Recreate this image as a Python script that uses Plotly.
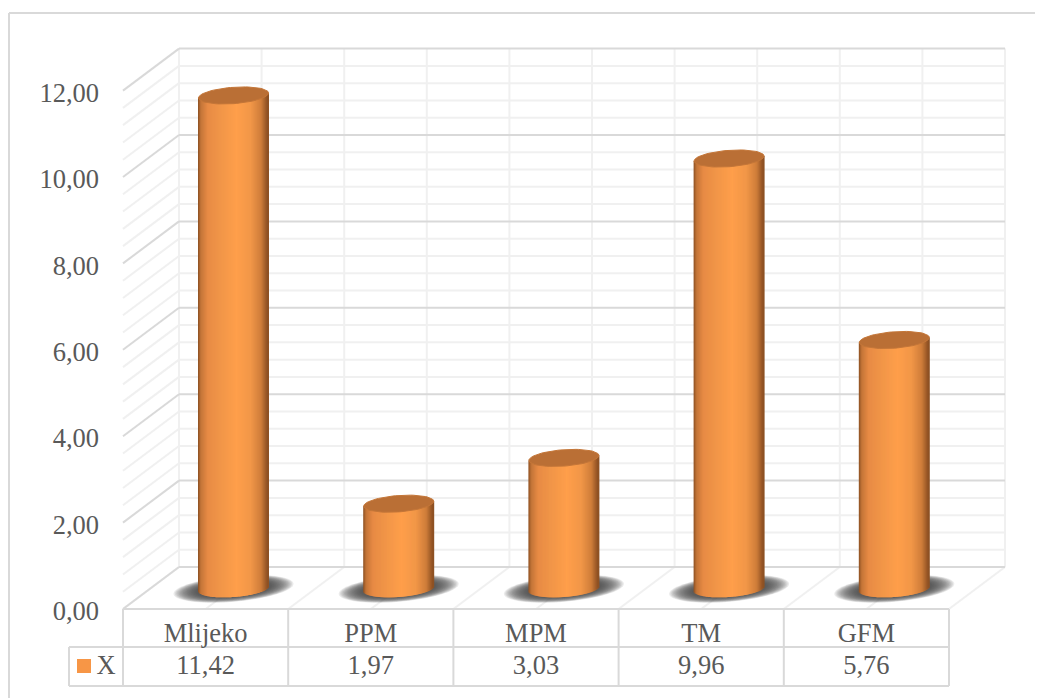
import numpy as np
import plotly.graph_objects as go

categories = ["Mlijeko", "PPM", "MPM", "TM", "GFM"]
values = [11.42, 1.97, 3.03, 9.96, 5.76]
series_name = "X"
y_ticks = [0, 2, 4, 6, 8, 10, 12]

# The page has an 8px body margin, so the figure starts at (8, 8) in the window.
PAGE_W, PAGE_H, BODY = 1043, 698, 8
W, H = PAGE_W - BODY, PAGE_H - BODY
CAT_PX, VAL_PX = 165.2, 43.2
X0_PX, Y0_PX = 205.6, 609.0

def xd(px):
    return (px - X0_PX) / CAT_PX

def yd(py):
    return (Y0_PX - py) / VAL_PX

def label(v):
    return f"{v:.2f}".replace(".", ",")

# --- wall and floor geometry (data units)
DX, DY = 56 / CAT_PX, 42 / VAL_PX
LEFT, RIGHT = -0.5, 4.5
GRID_LIGHT, GRID_MAJOR = "#F0F0F0", "#D9D9D9"
TABLE = "#D9D9D9"
shapes = []

def line(x0, y0, x1, y1, color, width=2):
    shapes.append(dict(type="line", x0=x0, y0=y0, x1=x1, y1=y1, xref="x", yref="y",
                       line=dict(color=color, width=width), layer="below"))

minor_levels = [round(i * 0.4, 1) for i in range(31)]
for lv in minor_levels:
    if abs(lv / 2 - round(lv / 2)) > 1e-6:
        line(LEFT, lv, LEFT + DX, lv + DY, GRID_LIGHT)
        line(LEFT + DX, lv + DY, RIGHT + DX, lv + DY, GRID_LIGHT)
half_steps = [i * 0.5 - 0.5 for i in range(11)]
for xv in half_steps:
    line(xv + DX, DY, xv + DX, 12 + DY, GRID_LIGHT)
    line(xv, 0, xv + DX, DY, GRID_LIGHT)
for lv in y_ticks:
    line(LEFT, lv, LEFT + DX, lv + DY, GRID_MAJOR)
    line(LEFT + DX, lv + DY, RIGHT + DX, lv + DY, GRID_MAJOR)

# --- chart frame
line(xd(9), yd(13), xd(9), yd(PAGE_H), TABLE)
line(xd(9), yd(13), xd(PAGE_W), yd(13), TABLE)

# --- data table
row1, row2 = yd(647), yd(686)
line(LEFT, 0, RIGHT, 0, TABLE)
line(xd(69), row1, RIGHT, row1, TABLE)
line(xd(69), row2, RIGHT, row2, TABLE)
line(xd(69), row1, xd(69), row2, TABLE)
for i in range(6):
    line(i - 0.5, 0, i - 0.5, row2, TABLE)

# --- cylinders
CYL_DX = 27.9 / CAT_PX
CYL_DY = 20.2 / VAL_PX
A_PX, B_PX, TILT = 35.0, 8.2, -0.07
N = 70

stops_u = [0, 0.04, 0.14, 0.3, 0.55, 0.75, 0.9, 0.97, 1]
stops_rgb = np.array([[138, 79, 34], [196, 117, 56], [232, 139, 69], [240, 149, 72],
                      [255, 159, 75], [242, 151, 72], [207, 125, 58], [156, 90, 40], [138, 79, 34]])

xs, bases, heights, colors, widths = [], [], [], [], []
for i, v in enumerate(values):
    for k in range(N):
        u = (k + 0.5) / N
        d = (2 * u - 1) * A_PX
        s = np.sqrt(max(0.0, 1 - (d / A_PX) ** 2))
        bottom = CYL_DY - (TILT * d + B_PX * s) / VAL_PX
        top = v + CYL_DY - TILT * d / VAL_PX
        rgb = [int(np.interp(u, stops_u, stops_rgb[:, c])) for c in range(3)]
        xs.append(i + CYL_DX + d / CAT_PX)
        bases.append(bottom)
        heights.append(top - bottom)
        colors.append(f"rgb({rgb[0]},{rgb[1]},{rgb[2]})")
        widths.append(2.0 / CAT_PX)

fig = go.Figure()
fig.add_trace(go.Bar(x=xs, y=heights, base=bases, width=widths, name=series_name,
                     marker=dict(color=colors, line=dict(width=0)), showlegend=False,
                     hoverinfo="skip"))

theta = np.linspace(0, 2 * np.pi, 73)
for i, v in enumerate(values):
    d = A_PX * np.cos(theta)
    py = TILT * d + B_PX * np.sin(theta)
    fig.add_trace(go.Scatter(x=i + CYL_DX + d / CAT_PX, y=v + CYL_DY - py / VAL_PX, mode="lines",
                             fill="toself", fillcolor="#BA6F35",
                             line=dict(color="#C47638", width=1), showlegend=False,
                             hoverinfo="skip"))

# --- floor shadows
for i in range(len(categories)):
    for scale in np.linspace(1.0, 0.62, 18):
        d = 60.0 * scale * np.cos(theta)
        py = -0.083 * d + 13.0 * scale * np.sin(theta)
        px_x = i + CYL_DX + d / CAT_PX
        px_y = CYL_DY - py / VAL_PX
        path = "M " + " L ".join(f"{a:.4f},{b:.4f}" for a, b in zip(px_x, px_y)) + " Z"
        shapes.append(dict(type="path", path=path, xref="x", yref="y", layer="below",
                           fillcolor="rgba(70,70,70,0.11)", line=dict(width=0)))

# --- table values and legend key
FONT = dict(family="Liberation Serif, Times New Roman, serif", size=26.5, color="#595959")
fig.add_trace(go.Scatter(x=list(range(len(values))), y=[yd(667)] * len(values), mode="text",
                         text=[label(v) for v in values], textfont=FONT, textposition="middle center",
                         showlegend=False, hoverinfo="skip"))
fig.add_trace(go.Scatter(x=[xd(84)], y=[yd(666)], mode="markers", name=series_name,
                         marker=dict(symbol="square", size=14, color="#F79646"),
                         showlegend=False, hoverinfo="skip"))
fig.add_trace(go.Scatter(x=[xd(106)], y=[yd(667)], mode="text", text=[series_name], textfont=FONT,
                         textposition="middle center", showlegend=False, hoverinfo="skip"))

fig.update_layout(
    width=W, height=H, margin=dict(l=0, r=0, t=0, b=0), paper_bgcolor="white", plot_bgcolor="white",
    barmode="overlay", shapes=shapes, font=FONT,
    xaxis=dict(range=[xd(BODY), xd(PAGE_W)], domain=[0, 1], anchor="free", position=(PAGE_H - Y0_PX) / H,
               tickmode="array", tickvals=list(range(len(categories))), ticktext=categories,
               showgrid=False, zeroline=False, showline=False, ticks="", ticklabelstandoff=5,
               tickfont=FONT, automargin=False, fixedrange=True),
    yaxis=dict(range=[yd(PAGE_H), yd(BODY)], domain=[0, 1], anchor="free", position=(122 - BODY) / W,
               tickmode="array", tickvals=y_ticks, ticktext=[label(t) for t in y_ticks],
               showgrid=False, zeroline=False, showline=False, ticks="", ticklabelstandoff=23,
               ticklabelshift=2, tickfont=FONT, automargin=False, fixedrange=True),
)
fig.write_html("out.html", config=dict(displayModeBar=False))
